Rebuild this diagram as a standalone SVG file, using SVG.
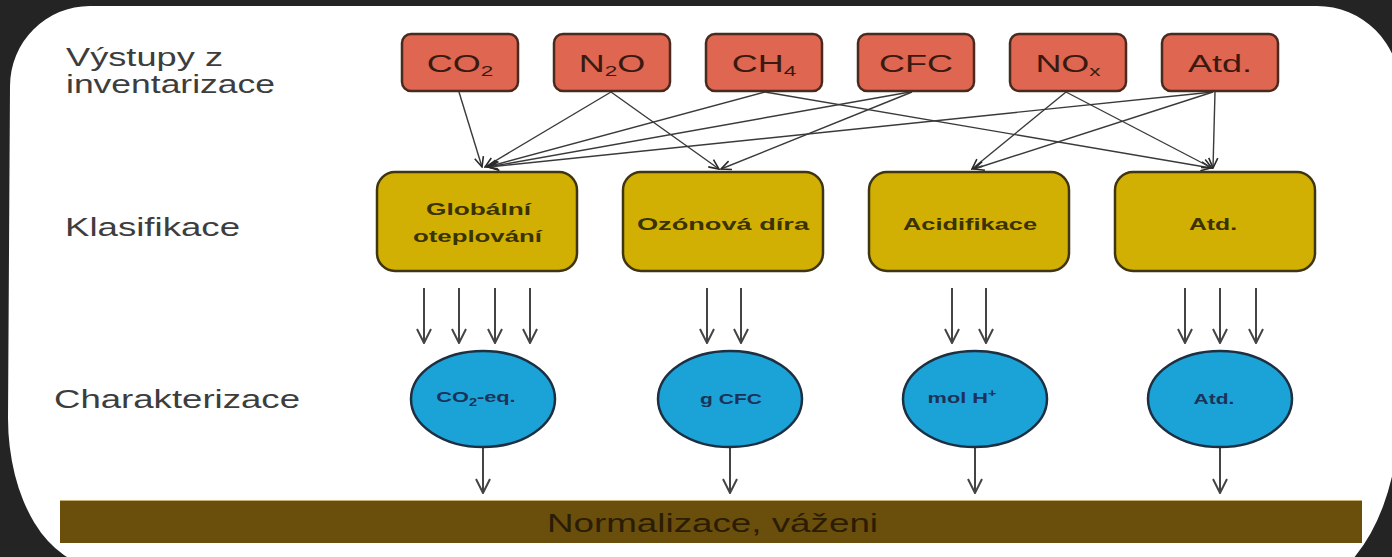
<svg xmlns="http://www.w3.org/2000/svg" width="1392" height="557" viewBox="0 0 1392 557">
<style>
.lbl{font-family:"Liberation Sans",Arial,sans-serif;font-size:25px;fill:#3d3d3d}
.gas rect{fill:#df6650;stroke:#4a2a1e;stroke-width:2.5}
.gas text{font-family:"Liberation Sans",Arial,sans-serif;font-size:24px;fill:#3a1a10;text-anchor:middle}
.cat rect{fill:#d1b003;stroke:#3f3510;stroke-width:2.5}
.cat text{font-family:"Liberation Sans",Arial,sans-serif;font-size:17px;font-weight:bold;fill:#3a3200}
.ind ellipse{fill:#1ba3d8;stroke:#1d2f40;stroke-width:2.5}
.ind text{font-family:"Liberation Sans",Arial,sans-serif;font-size:15px;font-weight:bold;fill:#1b3358;text-anchor:middle}
.thin{stroke:#3a3a3a;stroke-width:1.4;fill:none;marker-end:url(#ah)}
.down{stroke:#444;stroke-width:2;fill:none;marker-end:url(#ahb)}
</style>
<defs>
<marker id="ah" viewBox="0 0 12 12" refX="11" refY="6" markerWidth="12" markerHeight="12" orient="auto" markerUnits="userSpaceOnUse">
<path d="M1,1.5 L11,6 L1,10.5" fill="none" stroke="#2a2a2a" stroke-width="1.6"/>
</marker>
<marker id="ahb" viewBox="0 0 16 16" refX="15" refY="8" markerWidth="16" markerHeight="16" orient="auto" markerUnits="userSpaceOnUse">
<path d="M1,1 L15,8 L1,15" fill="none" stroke="#444" stroke-width="2"/>
</marker>
</defs>
<rect x="0" y="0" width="1392" height="557" fill="#242424"/>
<path d="M10,86 A80,80 0 0 1 90,6 H1317 A83,83 0 0 1 1400,89 V406 A100,180 0 0 1 1300,586 L98,566 A90,148 0 0 1 8,418 Z" fill="#ffffff"/>

<g id="labels">
<text class="lbl" x="66" y="66" font-size="24" textLength="157" lengthAdjust="spacingAndGlyphs">Výstupy z</text>
<text class="lbl" x="66" y="93" font-size="24" textLength="209" lengthAdjust="spacingAndGlyphs">inventarizace</text>
<text class="lbl" x="65" y="236" textLength="175" lengthAdjust="spacingAndGlyphs">Klasifikace</text>
<text class="lbl" x="54" y="408" textLength="246" lengthAdjust="spacingAndGlyphs">Charakterizace</text>
</g>

<g id="connectors">
<line class="thin" x1="459" y1="92" x2="482" y2="167"/>
<line class="thin" x1="611" y1="92" x2="485" y2="167"/>
<line class="thin" x1="611" y1="92" x2="719" y2="169"/>
<line class="thin" x1="765" y1="92" x2="487" y2="167"/>
<line class="thin" x1="765" y1="92" x2="1211" y2="168"/>
<line class="thin" x1="910" y1="92" x2="488" y2="167"/>
<line class="thin" x1="912" y1="92" x2="721" y2="169"/>
<line class="thin" x1="1066" y1="92" x2="972" y2="169"/>
<line class="thin" x1="1066" y1="92" x2="1212" y2="168"/>
<line class="thin" x1="1213" y1="92" x2="489" y2="167"/>
<line class="thin" x1="1213" y1="92" x2="974" y2="169"/>
<line class="thin" x1="1215" y1="92" x2="1213" y2="168"/>
<line class="down" x1="424" y1="288" x2="424" y2="343"/>
<line class="down" x1="459" y1="288" x2="459" y2="343"/>
<line class="down" x1="495" y1="288" x2="495" y2="343"/>
<line class="down" x1="530" y1="288" x2="530" y2="343"/>
<line class="down" x1="707" y1="288" x2="707" y2="343"/>
<line class="down" x1="741" y1="288" x2="741" y2="343"/>
<line class="down" x1="952" y1="288" x2="952" y2="343"/>
<line class="down" x1="986" y1="288" x2="986" y2="343"/>
<line class="down" x1="1185" y1="288" x2="1185" y2="343"/>
<line class="down" x1="1220" y1="288" x2="1220" y2="343"/>
<line class="down" x1="1256" y1="288" x2="1256" y2="343"/>
<line class="down" x1="483" y1="446" x2="483" y2="493"/>
<line class="down" x1="730" y1="446" x2="730" y2="493"/>
<line class="down" x1="975" y1="446" x2="975" y2="493"/>
<line class="down" x1="1220" y1="446" x2="1220" y2="493"/>
</g>

<g id="gas-co2" class="gas"><rect x="402" y="34" width="116" height="57" rx="9"/><g transform="translate(460,72) scale(1.5,1)"><text>CO<tspan font-size="15" dy="4">2</tspan></text></g></g>
<g id="gas-n2o" class="gas"><rect x="554" y="34" width="116" height="57" rx="9"/><g transform="translate(612,72) scale(1.5,1)"><text>N<tspan font-size="15" dy="4">2</tspan><tspan dy="-4">O</tspan></text></g></g>
<g id="gas-ch4" class="gas"><rect x="706" y="34" width="116" height="57" rx="9"/><g transform="translate(764,72) scale(1.5,1)"><text>CH<tspan font-size="15" dy="4">4</tspan></text></g></g>
<g id="gas-cfc" class="gas"><rect x="858" y="34" width="116" height="57" rx="9"/><g transform="translate(916,72) scale(1.5,1)"><text>CFC</text></g></g>
<g id="gas-nox" class="gas"><rect x="1010" y="34" width="116" height="57" rx="9"/><g transform="translate(1068,72) scale(1.5,1)"><text>NO<tspan font-size="15" dy="4">x</tspan></text></g></g>
<g id="gas-atd" class="gas"><rect x="1162" y="34" width="116" height="57" rx="9"/><g transform="translate(1220,72) scale(1.5,1)"><text>Atd.</text></g></g>

<g id="cat-global" class="cat"><rect x="377" y="172" width="200" height="99" rx="18"/>
<text x="426" y="215" textLength="105" lengthAdjust="spacingAndGlyphs">Globální</text>
<text x="413" y="242" textLength="129" lengthAdjust="spacingAndGlyphs">oteplování</text></g>
<g id="cat-ozon" class="cat"><rect x="623" y="172" width="200" height="99" rx="18"/>
<text x="637" y="230" textLength="172" lengthAdjust="spacingAndGlyphs">Ozónová díra</text></g>
<g id="cat-acid" class="cat"><rect x="869" y="172" width="200" height="99" rx="18"/>
<text x="903" y="230" textLength="134" lengthAdjust="spacingAndGlyphs">Acidifikace</text></g>
<g id="cat-atd" class="cat"><rect x="1115" y="172" width="200" height="99" rx="18"/>
<text x="1189" y="230" textLength="48" lengthAdjust="spacingAndGlyphs">Atd.</text></g>

<g id="ind-co2eq" class="ind"><ellipse cx="483" cy="399" rx="72" ry="48"/><g transform="translate(476,402) scale(1.45,1)"><text>CO<tspan font-size="10" dy="4">2</tspan><tspan dy="-4">-eq.</tspan></text></g></g>
<g id="ind-gcfc" class="ind"><ellipse cx="730" cy="399" rx="72" ry="48"/><g transform="translate(731,404) scale(1.4,1)"><text font-size="17">g CFC</text></g></g>
<g id="ind-molh" class="ind"><ellipse cx="975" cy="399" rx="72" ry="48"/><g transform="translate(962,403) scale(1.45,1)"><text>mol H<tspan font-size="10" dy="-6">+</tspan></text></g></g>
<g id="ind-atd" class="ind"><ellipse cx="1220" cy="399" rx="72" ry="48"/><g transform="translate(1214,404) scale(1.4,1)"><text>Atd.</text></g></g>

<g id="norm">
<rect x="60" y="500" width="1302" height="43" fill="#6a4e0c"/>
<line x1="60" y1="500.5" x2="1362" y2="500.5" stroke="#c9b27a" stroke-width="1"/>
<text x="547" y="532" font-family="'Liberation Sans',Arial,sans-serif" font-size="26" fill="#2a1d04" textLength="331" lengthAdjust="spacingAndGlyphs">Normalizace, váženi</text>
</g>
</svg>
